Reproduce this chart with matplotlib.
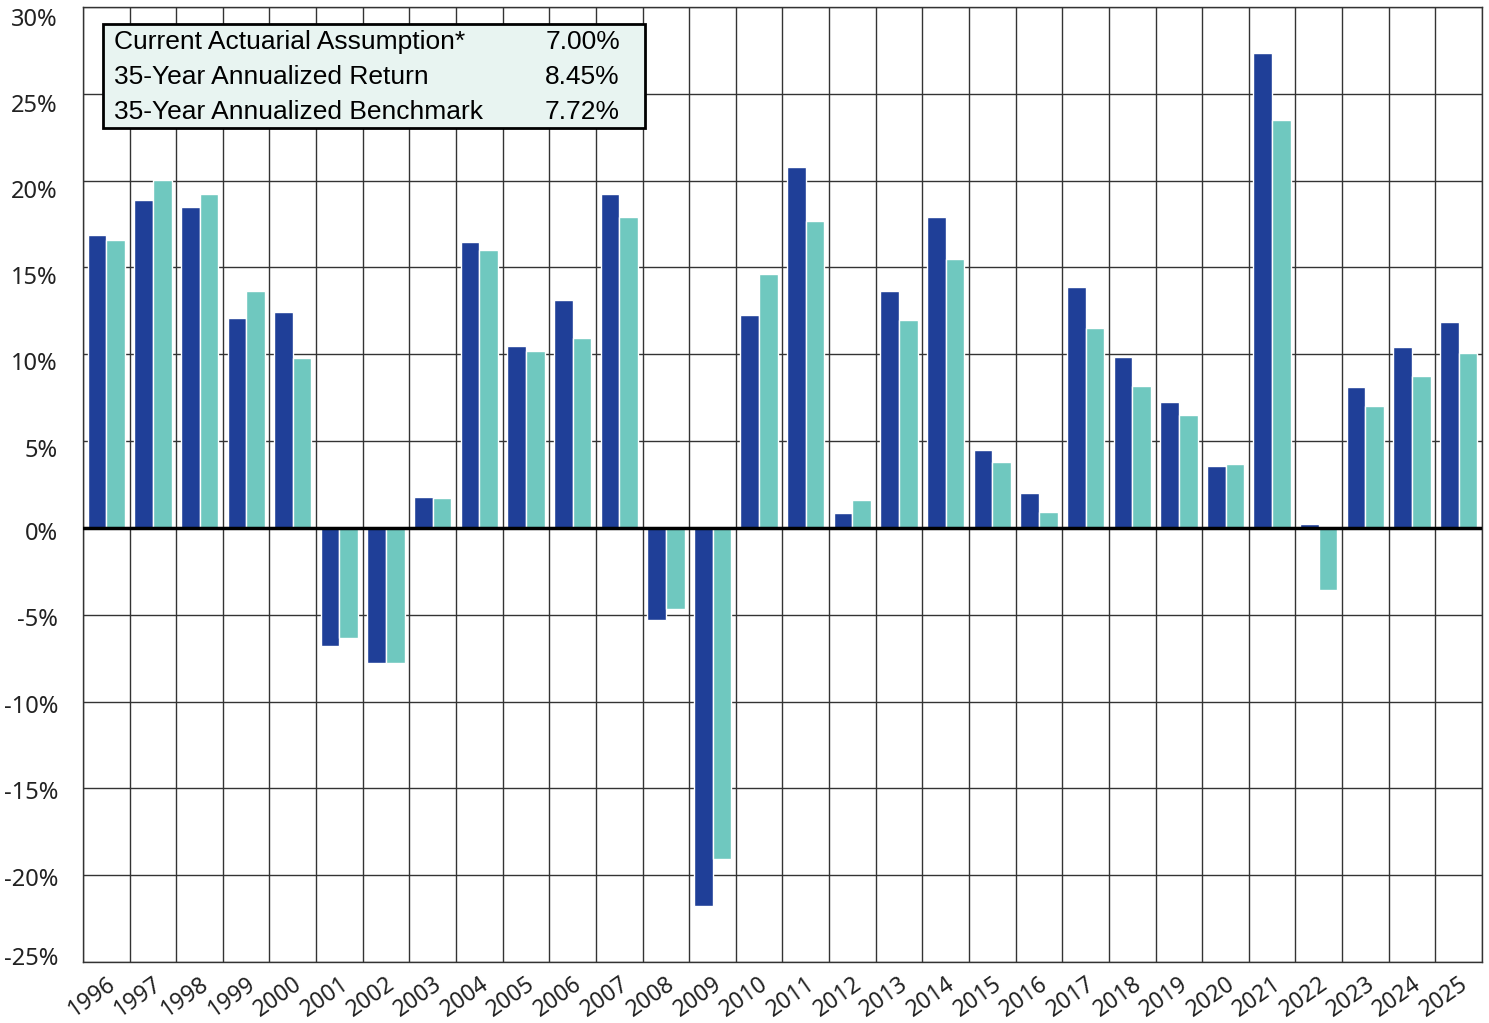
import numpy as np
import matplotlib.pyplot as plt
import matplotlib.transforms as mtransforms
from matplotlib.patches import Rectangle

# dados
anos = [str(a) for a in range(1996, 2026)]
retorno = [16.84, 18.9, 18.5, 12.07, 12.41, -6.78, -7.8, 1.78, 16.44, 10.46,
           13.1, 19.2, -5.29, -21.78, 12.24, 20.8, 0.86, 13.62, 17.93, 4.48,
           2.0, 13.85, 9.83, 7.24, 3.56, 27.37, 0.2, 8.12, 10.41, 11.86]
benchmark = [16.6, 20.06, 19.2, 13.62, 9.77, -6.32, -7.8, 1.72, 16.03, 10.17,
             10.92, 17.93, -4.66, -19.08, 14.6, 17.7, 1.6, 12.0, 15.5, 3.79,
             0.92, 11.5, 8.2, 6.49, 3.70, 23.5, -3.6, 7.03, 8.75, 10.07]

tabela_rotulos = ["Current Actuarial Assumption*", "35-Year Annualized Return",
                  "35-Year Annualized Benchmark"]
tabela_valores = ["7.00%", "8.45%", "7.72%"]

cor_azul = "#1f3f98"
cor_verde = "#6fc8bf"

fig = plt.figure(figsize=(14.89, 10.23), dpi=100)
ax = fig.add_axes([0.0557, 0.0596, 0.9396, 0.9336])

x = np.arange(len(anos))
w = 0.4
ax.bar(x - w / 2, retorno, w, color=cor_azul, edgecolor="white", linewidth=1, zorder=3)
ax.bar(x + w / 2, benchmark, w, color=cor_verde, edgecolor="white", linewidth=1, zorder=3)

ax.set_xlim(-0.5, len(anos) - 0.5)
ax.set_ylim(-25, 30)

# grade
for yv in range(-25, 31, 5):
    ax.axhline(yv, color="#333333", lw=1, zorder=1)
for xv in np.arange(-0.5, len(anos), 1.0):
    ax.axvline(xv, color="#333333", lw=1, zorder=1)
ax.axhline(0, color="black", lw=2.5, zorder=4)

for s in ax.spines.values():
    s.set_color("#333333")
    s.set_linewidth(1)

yticks = list(range(-25, 31, 5))
ax.set_yticks(yticks)
ax.set_yticklabels([f"{v}%" for v in yticks], fontsize=17,
                   family="Noto Sans", color="#222222")
ax.set_xticks(x)
ax.set_xticklabels(anos, rotation=35, ha="right", rotation_mode="anchor",
                   fontsize=16.5, family="Noto Sans", color="#222222")
ax.tick_params(length=0)
ax.tick_params(axis="y", pad=18)
ax.tick_params(axis="x", pad=7)

# no original os rótulos do eixo y ficam um pouco deslocados das linhas
desloc = [6, -2, -2, -2, -2, -3, -7, -7, -8, -8, -9, -10]  # pixels, de -25% a 30%
for lbl, d in zip(ax.get_yticklabels(), desloc):
    lbl.set_transform(lbl.get_transform() +
                      mtransforms.ScaledTranslation(0, d / 100, fig.dpi_scale_trans))

# caixa com a tabela
caixa = Rectangle((0.0143, 0.8733), 0.3874, 0.1089, transform=ax.transAxes,
                  facecolor="#e8f4f1", edgecolor="black", linewidth=2, zorder=6)
ax.add_patch(caixa)
linhas_y = [0.9635, 0.9268, 0.8901]
for rot, val, yy in zip(tabela_rotulos, tabela_valores, linhas_y):
    ax.text(0.0222, yy, rot, transform=ax.transAxes, fontsize=19,
            family="Liberation Sans", va="center", ha="left", zorder=7)
    ax.text(0.3838, yy, val, transform=ax.transAxes, fontsize=19,
            family="Liberation Sans", va="center", ha="right", zorder=7)

fig.savefig("out.png", dpi=100)
